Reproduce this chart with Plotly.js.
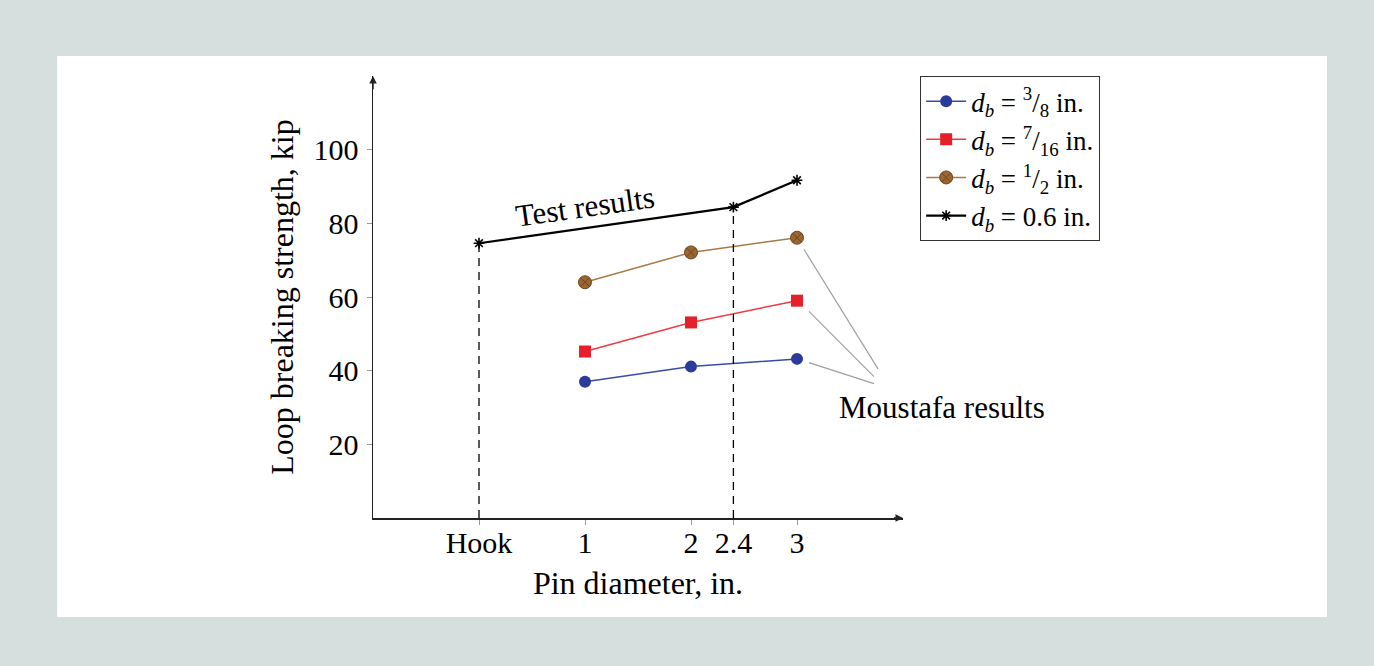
<!DOCTYPE html>
<html><head><meta charset="utf-8">
<script src="https://cdn.plot.ly/plotly-3.0.1.min.js"></script>
<style>html,body{margin:0;padding:0;background:#d6dfde;}</style>
</head><body>
<div id="chart" style="width:1374px;height:666px;"></div>
<script>
// Pin diameter positions (Hook plotted at 0)
const pinX = [1, 2, 3];
const testX = [0, 2.4, 3];
const tickVals = [0, 1, 2, 2.4, 3];
const tickText = ["Hook", "1", "2", "2.4", "3"];
const yTicks = [20, 40, 60, 80, 100];

// Loop breaking strength, kip
const db38 = [37, 41.1, 43.2];
const db716 = [45.2, 53.1, 59];
const db12 = [64, 72.1, 76.1];
const test06 = [74.6, 84.4, 91.7];

const names = [
  "<i>d<sub>b</sub></i> = <sup>3</sup>/<sub>8</sub> in.",
  "<i>d<sub>b</sub></i> = <sup>7</sup>/<sub>16</sub> in.",
  "<i>d<sub>b</sub></i> = <sup>1</sup>/<sub>2</sub> in.",
  "<i>d<sub>b</sub></i> = 0.6 in."
];

const FONT = "Palatino, 'Palatino Linotype', 'Liberation Serif', serif";

const traces = [
  {x: pinX, y: db38, name: names[0], mode: "lines+markers",
   line: {color: "#3a4aaa", width: 1.5},
   marker: {symbol: "circle", size: 12, color: "#2b3b9c", line: {width: 0}}},
  {x: pinX, y: db716, name: names[1], mode: "lines+markers",
   line: {color: "#ee3a44", width: 1.5},
   marker: {symbol: "square", size: 12, color: "#e5202b", line: {width: 0}}},
  {x: pinX, y: db12, name: names[2], mode: "lines+markers",
   line: {color: "#a87a48", width: 1.5},
   marker: {symbol: "circle-x", size: 13, color: "#9a6530", line: {width: 1, color: "#6e4620"}}},
  {x: testX, y: test06, name: names[3], mode: "lines+markers",
   line: {color: "#000", width: 2.2},
   marker: {symbol: "asterisk", size: 9, color: "#000", line: {width: 1.6, color: "#000"}}},
  // dashed drop lines from the test points at Hook and 2.4
  {x: [testX[0], testX[0]], y: [0, test06[0]], mode: "lines", showlegend: false, hoverinfo: "skip",
   line: {color: "#000", width: 1.3, dash: "8px,6px"}},
  {x: [testX[1], testX[1]], y: [0, test06[1]], mode: "lines", showlegend: false, hoverinfo: "skip",
   line: {color: "#000", width: 1.3, dash: "8px,6px"}}
];

const grey = "#9a9a9a";
const layout = {
  width: 1374, height: 666,
  paper_bgcolor: "#d6dfde", plot_bgcolor: "rgba(0,0,0,0)",
  margin: {l: 373, r: 471, t: 76, b: 148},
  font: {family: FONT, size: 28, color: "#000"},
  showlegend: true,
  legend: {x: 1.032, y: 1.0, xanchor: "left", yanchor: "top",
    bgcolor: "#fff", bordercolor: "#333", borderwidth: 1.2,
    font: {family: FONT, size: 27}, tracegroupgap: 0, itemwidth: 40,
    entrywidth: 200, entrywidthmode: "pixels"},
  xaxis: {range: [-1, 4], showgrid: false, zeroline: false, showline: true,
    linecolor: "#222", linewidth: 1.5, tickmode: "array", tickvals: tickVals, ticktext: tickText,
    ticks: "outside", ticklen: 5, tickcolor: grey, tickwidth: 1, ticklabelstandoff: -8,
    tickfont: {family: FONT, size: 30}, fixedrange: true,
    title: {text: "Pin diameter, in.", font: {family: FONT, size: 32}, standoff: 14}},
  yaxis: {range: [0, 120], showgrid: false, zeroline: false, showline: true,
    linecolor: "#222", linewidth: 1.5, tickmode: "array", tickvals: yTicks,
    ticks: "outside", ticklen: 5, tickcolor: grey, tickwidth: 1, ticklabelstandoff: 2,
    tickfont: {family: FONT, size: 30}, fixedrange: true,
    title: {text: "Loop breaking strength, kip", font: {family: FONT, size: 32}, standoff: 10}},
  shapes: [
    {type: "rect", xref: "paper", yref: "paper", x0: -0.596, x1: 1.8, y0: -0.224, y1: 1.045,
     fillcolor: "#fff", line: {width: 0}, layer: "below"},
    {type: "line", xref: "x", yref: "y", x0: 3.066, y0: 72.9, x1: 3.764, y1: 40.5, line: {color: "#a0a0a0", width: 1.2}},
    {type: "line", xref: "x", yref: "y", x0: 3.113, y0: 56.1, x1: 3.726, y1: 38.4, line: {color: "#a0a0a0", width: 1.2}},
    {type: "line", xref: "x", yref: "y", x0: 3.113, y0: 42.2, x1: 3.726, y1: 36.5, line: {color: "#a0a0a0", width: 1.2}}
  ],
  annotations: [
    {x: 1.0, y: 84.6, xref: "x", yref: "y", text: "Test results", showarrow: false,
     textangle: -8, font: {family: FONT, size: 31}},
    {x: 1.0736, y: 0.251, xref: "paper", yref: "paper", xanchor: "center", yanchor: "middle",
     text: "Moustafa results", showarrow: false, font: {family: FONT, size: 31}},
    // axis arrowheads
    {x: 4.0, y: 0, ax: 3.9, ay: 0, xref: "x", yref: "y", axref: "x", ayref: "y", text: "",
     showarrow: true, arrowhead: 2, arrowsize: 1, arrowwidth: 1.5, arrowcolor: "#222"},
    {x: -1, y: 120, ax: -1, ay: 116, xref: "x", yref: "y", axref: "x", ayref: "y", text: "",
     showarrow: true, arrowhead: 2, arrowsize: 1, arrowwidth: 1.5, arrowcolor: "#222"}
  ]
};

Plotly.newPlot("chart", traces, layout, {displayModeBar: false, staticPlot: true});
</script>
</body></html>
